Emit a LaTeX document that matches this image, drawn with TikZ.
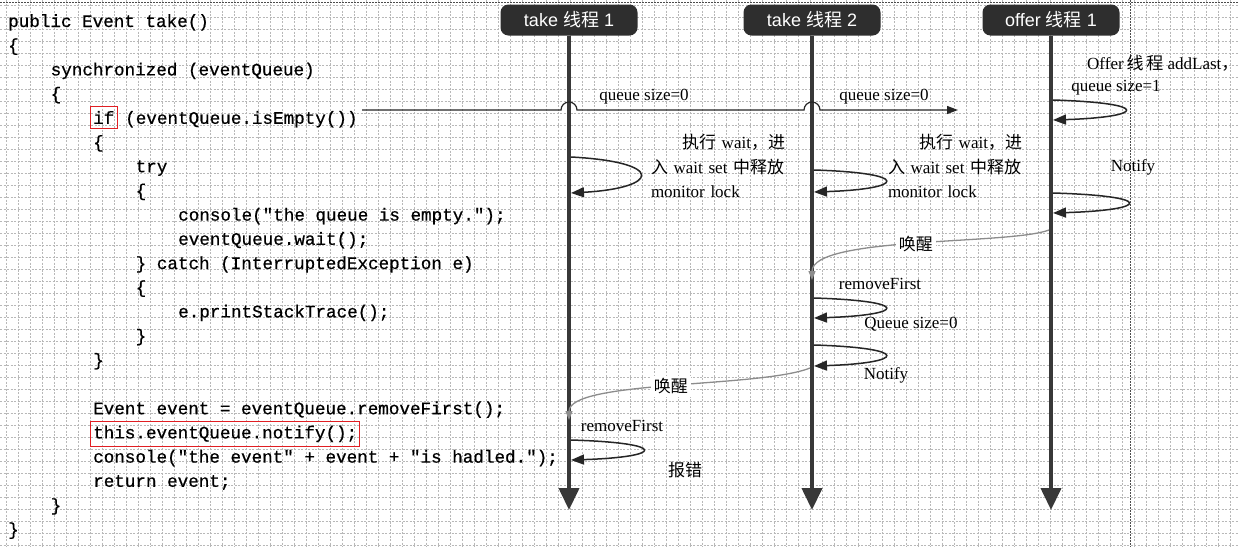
\documentclass[tikz,border=0pt]{standalone}
\usepackage{fontspec}
\setmainfont{Liberation Serif}
\newfontfamily\codefont{Liberation Mono}[FakeBold=0.6]
\newfontfamily\hdrfont{Liberation Sans}
\newfontfamily\cjk{Noto Sans CJK SC}
\usetikzlibrary{arrows.meta,positioning}

\definecolor{boxred}{RGB}{225,30,35}
\tikzset{
  gridline/.style={draw=black!28, line width=0.5pt, dash pattern=on 2pt off 1.5pt},
  frame/.style={draw=black!70, line width=0.7pt, dash pattern=on 2pt off 1pt},
  thread/.style={fill=black!82, rounded corners=8pt, text=white, minimum width=137pt,
    minimum height=31pt, inner sep=0pt, font=\hdrfont\fontsize{18pt}{20pt}\selectfont},
  lifeline/.style={draw=black!78, line width=4pt, -{Triangle[width=20pt,length=22pt]}},
  code/.style={anchor=base west, inner sep=0pt, font=\codefont\fontsize{17.6pt}{20pt}\selectfont},
  redbox/.style={inner xsep=2.5pt, inner ysep=4pt},
  redline/.style={draw=boxred, line width=1pt},
  lbl/.style={inner sep=0pt, font=\fontsize{17pt}{24.5pt}\selectfont},
  selfloop/.style={draw=black!85, line width=1.5pt, -{Triangle[width=10pt,length=13pt]}},
  wake/.style={draw=black!45, line width=1.3pt, -{Triangle[width=7pt,length=9pt]}},
  qline/.style={draw=black!85, line width=1.2pt, -{Triangle[width=8pt,length=11pt]}},
}

\begin{document}
\begin{tikzpicture}[x=1pt,y=-1pt]
  \useasboundingbox (0,0) rectangle (1239,547);
  \fill[white] (0,0) rectangle (1239,547);

  % Drawing the paper grid
  \foreach \gx in {6,18,...,1239} \draw[gridline] (\gx,0) -- (\gx,547);
  \foreach \gy in {5,17,...,547} \draw[gridline] (0,\gy) -- (1239,\gy);
  \draw[frame] (0,2) -- (1239,2);
  \draw[frame] (1130,0) -- (1130,547);

  % Code of take()
  \node (c00) [code] at (8,27) {public Event take()};
  \node (c01) [code] at (8,51.2) {\{};
  \node (c02) [code] at (50.5,75.4) {synchronized (eventQueue)};
  \node (c03) [code] at (50.5,99.6) {\{};
  \node (ifkw) [code, redbox] at (90.5,123.8) {if};
  \node (ifrest) [code, base right=8pt of ifkw] {(eventQueue.isEmpty())};
  \node (c05) [code] at (93,148) {\{};
  \node (c06) [code] at (135.5,172.2) {try};
  \node (c07) [code] at (135.5,196.4) {\{};
  \node (c08) [code] at (178,220.6) {console("the queue is empty.");};
  \node (c09) [code] at (178,244.8) {eventQueue.wait();};
  \node (c10) [code] at (135.5,269) {\} catch (InterruptedException e)};
  \node (c11) [code] at (135.5,293.2) {\{};
  \node (c12) [code] at (178,317.4) {e.printStackTrace();};
  \node (c13) [code] at (135.5,341.6) {\}};
  \node (c14) [code] at (93,365.8) {\}};
  \node (c16) [code] at (93,414.2) {Event event = eventQueue.removeFirst();};
  \node (notif) [code, redbox] at (90.5,438.4) {this.eventQueue.notify();};
  \node (c18) [code] at (93,462.6) {console("the event" + event + "is hadled.");};
  \node (c19) [code] at (93,486.8) {return event;};
  \node (c20) [code] at (50.5,511) {\}};
  \node (c21) [code] at (8,535.2) {\}};

  % Red marks
  \draw[redline] (ifkw.south west) rectangle (ifkw.north east);
  \draw[redline] (notif.south west) rectangle (notif.north east);

  % Threads and life lines
  \node (t1) [thread] at (569,20) {take {\cjk 线程} 1};
  \node (t2) [thread] at (812,20) {take {\cjk 线程} 2};
  \node (o1) [thread] at (1051,20) {offer {\cjk 线程} 1};
  \coordinate (t1end) at (569,510);
  \coordinate (t2end) at (812,510);
  \coordinate (o1end) at (1051,510);
  \draw[lifeline] (t1.south) -- (t1end);
  \draw[lifeline] (t2.south) -- (t2end);
  \draw[lifeline] (o1.south) -- (o1end);

  % Drawing line from the if test
  \coordinate (qs) at (362,110);
  \coordinate (qe) at (958,110);
  \draw[qline] (qs) -- (561,110) arc[start angle=180, end angle=0, radius=8pt]
    -- (804,110) arc[start angle=180, end angle=0, radius=8pt] -- (qe);
  \node (q1) [lbl] at (644,97) {queue size=0};
  \node (q2) [lbl] at (884,97) {queue size=0};

  % Drawing loops of take 1
  \coordinate (l1s) at (571,157);
  \coordinate (l1e) at (571,193);
  \draw[selfloop] (l1s) .. controls (666,162) and (660,188) .. (l1e);
  \node (wt1) [lbl, align=left, text width=134pt] at (718,166)
    {\hspace*{\fill}{\cjk 执行} wait{\cjk ，进}\\ {\cjk 入} wait set {\cjk 中释放}\\ monitor lock};
  \coordinate (l7s) at (571,440);
  \coordinate (l7e) at (571,460);
  \draw[selfloop] (l7s) .. controls (670,443) and (664,457) .. (l7e);
  \node (rf1) [lbl] at (622,426) {removeFirst};
  \node (err) [lbl] at (685,470) {\cjk 报错};

  % Drawing loops of take 2
  \coordinate (l2s) at (814,170);
  \coordinate (l2e) at (814,192);
  \draw[selfloop] (l2s) .. controls (912,173) and (906,189) .. (l2e);
  \node (wt2) [lbl, align=left, text width=134pt] at (955,166)
    {\hspace*{\fill}{\cjk 执行} wait{\cjk ，进}\\ {\cjk 入} wait set {\cjk 中释放}\\ monitor lock};
  \coordinate (l5s) at (814,298);
  \coordinate (l5e) at (814,318);
  \draw[selfloop] (l5s) .. controls (912,301) and (906,315) .. (l5e);
  \node (rf2) [lbl] at (880,284) {removeFirst};
  \node (qs2) [lbl] at (911,324) {Queue size=0};
  \coordinate (l6s) at (814,345);
  \coordinate (l6e) at (814,366);
  \draw[selfloop] (l6s) .. controls (912,348) and (906,363) .. (l6e);
  \node (nt2) [lbl] at (886,375) {Notify};

  % Drawing loops of offer 1
  \coordinate (l3s) at (1053,100);
  \coordinate (l3e) at (1053,120);
  \draw[selfloop] (l3s) .. controls (1152,103) and (1146,117) .. (l3e);
  \node (oadd) [lbl, anchor=west] at (1087,63) {Offer\,{\cjk 线\,程} addLast{\cjk ，}};
  \node (qso) [lbl] at (1116,88) {queue size=1};
  \coordinate (l4s) at (1053,193);
  \coordinate (l4e) at (1053,213);
  \draw[selfloop] (l4s) .. controls (1156,196) and (1150,210) .. (l4e);
  \node (nto) [lbl] at (1133,167) {Notify};

  % Drawing wake up lines
  \coordinate (w1s) at (1049,230);
  \coordinate (w1e) at (812,280);
  \draw[wake] (w1s) .. controls (1010,245) and (812,236) .. (w1e)
    node (wk1) [lbl, midway, fill=white, inner sep=3pt] {\cjk 唤醒};
  \coordinate (w2s) at (810,368);
  \coordinate (w2e) at (569,420);
  \draw[wake] (w2s) .. controls (760,388) and (569,380) .. (w2e)
    node (wk2) [lbl, midway, fill=white, inner sep=3pt] {\cjk 唤醒};
\end{tikzpicture}
\end{document}
